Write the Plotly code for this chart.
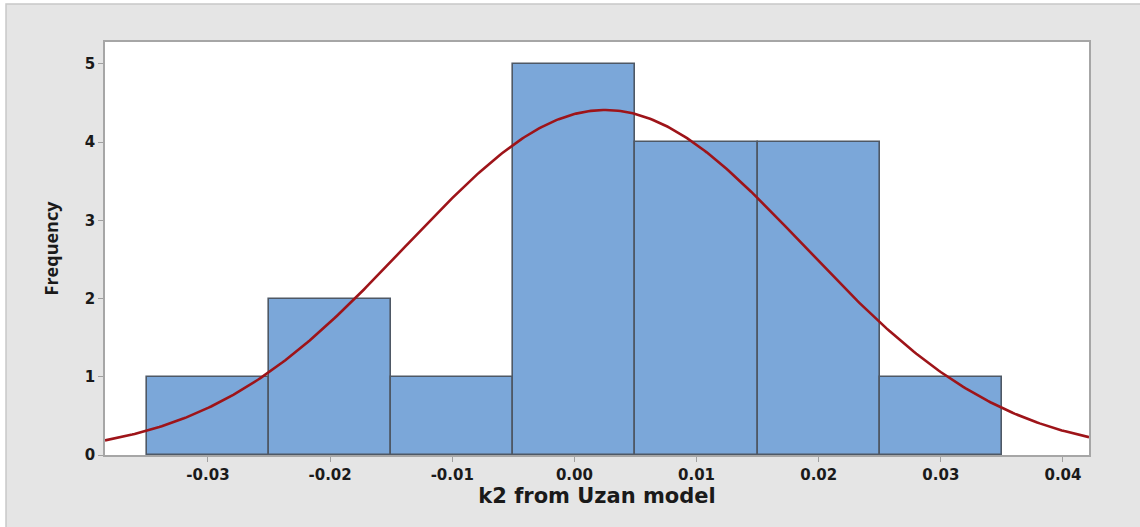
import numpy as np
import plotly.graph_objects as go

# Histogram data
bin_centers = [-0.03, -0.02, -0.01, 0.00, 0.01, 0.02, 0.03]
counts = [1, 2, 1, 5, 4, 4, 1]
bin_width = 0.01
x_tickvals = [-0.03, -0.02, -0.01, 0.00, 0.01, 0.02, 0.03, 0.04]
x_ticktext = ["-0.03", "-0.02", "-0.01", "0.00", "0.01", "0.02", "0.03", "0.04"]
y_tickvals = [0, 1, 2, 3, 4, 5]

# Normal fit parameters (estimated from the curve)
fit_mean = 0.0025
fit_stdev = 0.01628
n_obs = sum(counts)

x_min, x_max = -0.03843, 0.04213
xs = np.linspace(x_min, x_max, 400)
ys = n_obs * bin_width * np.exp(-0.5 * ((xs - fit_mean) / fit_stdev) ** 2) / (fit_stdev * np.sqrt(2 * np.pi))

fig = go.Figure()
fig.add_trace(go.Bar(
    x=bin_centers, y=counts, width=bin_width,
    marker=dict(color="#7BA7D9", line=dict(color="#4E5865", width=1.6)),
    hoverinfo="skip",
))
fig.add_trace(go.Scatter(
    x=xs, y=ys, mode="lines",
    line=dict(color="#9E1419", width=2.6),
    hoverinfo="skip",
))

tick_font = "DejaVu Sans, sans-serif"
fig.update_layout(
    width=1140, height=527,
    margin=dict(l=105, r=51, t=42, b=72),
    paper_bgcolor="white",
    plot_bgcolor="white",
    showlegend=False,
    bargap=0,
    font=dict(family=tick_font, color="#1a1a1a"),
    xaxis=dict(
        range=[x_min, x_max],
        tickvals=x_tickvals, ticktext=x_ticktext,
        ticks="outside", ticklen=5, tickcolor="#a0a0a0", tickwidth=1.2,
        tickfont=dict(family=tick_font, size=15, weight="bold"),
        showgrid=False, zeroline=False,
        showline=True, linecolor="#a6a6a6", linewidth=1.5, mirror=True,
        title=dict(text="k2 from Uzan model",
                   font=dict(family=tick_font, size=21, weight="bold"), standoff=6),
    ),
    yaxis=dict(
        range=[0, 5.28],
        tickvals=y_tickvals,
        ticks="outside", ticklen=5, tickcolor="#a0a0a0", tickwidth=1.2,
        tickfont=dict(family=tick_font, size=15, weight="bold"),
        showgrid=False, zeroline=False,
        showline=True, linecolor="#a6a6a6", linewidth=1.5, mirror=True,
        title=dict(text="Frequency",
                   font=dict(family="Open Sans, sans-serif", size=18, weight=700), standoff=22),
    ),
    shapes=[
        dict(type="rect", xref="paper", yref="paper",
             x0=-0.1006, x1=1.2, y0=-0.5, y1=1.092,
             fillcolor="#E5E5E5", line=dict(color="#C8C8C8", width=1.5),
             layer="below"),
        dict(type="rect", xref="paper", yref="paper",
             x0=0, x1=1, y0=0, y1=1,
             fillcolor="white", line=dict(width=0),
             layer="below"),
    ],
)

fig.write_html("out.html")
